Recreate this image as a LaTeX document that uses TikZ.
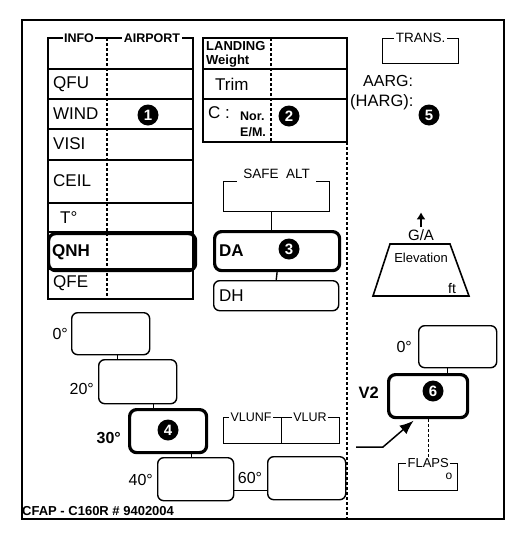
\documentclass[tikz,border=0pt]{standalone}
\usepackage{fontspec}
\setmainfont{Liberation Sans}
\usetikzlibrary{arrows.meta}

\tikzset{
  lbl/.style={anchor=west, inner sep=0pt, font=\fontsize{17}{19}\selectfont},
  bfl/.style={lbl, font=\fontsize{17}{19}\selectfont\bfseries},
  hdr/.style={fill=white, inner sep=1.5pt, font=\fontsize{12.5}{14}\selectfont\bfseries},
  captxt/.style={fill=white, inner sep=1.5pt, font=\fontsize{13}{15}\selectfont},
  tabline/.style={line width=1.4pt},
  divider/.style={line width=1.2pt, dash pattern=on 3pt off 2pt},
  bracket/.style={draw, tabline, anchor=north west, inner sep=0pt},
  thinbox/.style={draw, line width=1.4pt, rounded corners=6pt, anchor=north west, inner sep=0pt,
    minimum width=78pt, minimum height=42pt},
  thickbox/.style={thinbox, line width=3.2pt, rounded corners=7pt},
  num/.style={circle, fill=black, text=white, inner sep=0pt, minimum size=21pt,
    font=\fontsize{15}{15}\selectfont\bfseries}
}

\begin{document}
\begin{tikzpicture}[>=Latex,x=1pt,y=-1pt]
  \useasboundingbox (0,0) rectangle (525,544);

  % Outer frame and column divider
  \draw[line width=1.8pt] (22,20) rectangle (504,519);
  \draw[divider] (347,142) -- (347,519);

  % INFO / AIRPORT table
  \draw[tabline] (48,38) -- (193,38) -- (193,299) -- (48,299) -- cycle;
  \foreach \y in {69,99,129,160,203,232,269}
    \draw[tabline] (48,\y) -- (193,\y);
  \draw[divider] (107,38) -- (107,299);
  \node[hdr] at (79,38) {INFO};
  \node[hdr] at (152,38) {AIRPORT};
  \node[thickbox, minimum width=147pt, minimum height=37pt] (qnh) at (47,232) {};
  \node[lbl] (qfu) at (53,84) {QFU};
  \node[lbl] (wind) at (53,114) {WIND};
  \node[lbl] (visi) at (53,144) {VISI};
  \node[lbl] (ceil) at (53,181) {CEIL};
  \node[lbl] (temp) at (60,218) {T°};
  \node[bfl] (qnhlbl) at ([xshift=5pt]qnh.west) {QNH};
  \node[lbl] (qfe) at (53,283) {QFE};
  \node[num] (n1) at (148,115) {1};

  % Landing weight table
  \draw[tabline] (203,38) rectangle (347,142);
  \draw[tabline] (203,69) -- (347,69);
  \draw[tabline] (203,99) -- (347,99);
  \draw[divider] (271,38) -- (271,142);
  \node[lbl, font=\fontsize{13}{14}\selectfont\bfseries] (landing) at (206,46) {LANDING};
  \node[lbl, font=\fontsize{13}{14}\selectfont\bfseries] (weight) at (206,61) {Weight};
  \node[lbl] (trim) at (215,84) {Trim};
  \node[lbl] (conf) at (208,113) {C :};
  \node[lbl, font=\fontsize{12.5}{14}\selectfont\bfseries] (nor) at (240,116) {Nor.};
  \node[lbl, font=\fontsize{12.5}{14}\selectfont\bfseries] (em) at (240,132) {E/M.};
  \node[num] (n2) at (289,116) {2};

  % Safe altitude, DA and DH
  \node[bracket, minimum width=106pt, minimum height=30pt] (safe) at (223,181) {};
  \node[captxt, font=\fontsize{13.5}{15}\selectfont, anchor=base, inner xsep=6pt, inner ysep=4.5pt] at ([yshift=3pt]safe.north) {SAFE\ \ ALT};
  \node[thickbox, minimum width=125pt, minimum height=39pt] (da) at (213,230) {};
  \node[thinbox, minimum width=125pt, minimum height=30pt] (dh) at (213,280) {};
  \draw[tabline] ([xshift=-5pt]safe.south) -- ([xshift=-5pt]safe.south |- da.north);
  \draw[tabline] (da.south) -- (dh.north);
  \node[bfl] (dalbl) at ([xshift=6pt]da.west) {DA};
  \node[num] (n3) at (289,249) {3};
  \node[lbl] (dhlbl) at ([xshift=6pt]dh.west) {DH};

  % Transition level
  \node[bracket, minimum width=76pt, minimum height=25pt] (trans) at (382,38) {};
  \node[captxt, font=\fontsize{13.5}{15}\selectfont] at (trans.north) {TRANS.};
  \node[lbl, font=\fontsize{16}{18}\selectfont] (aarg) at (363,81) {AARG:};
  \node[lbl, font=\fontsize{16.5}{18}\selectfont] (harg) at (350,102) {(HARG):};
  \node[num] (n5) at (429,115) {5};

  % Go-around elevation
  \draw[line width=1.6pt] (390,244) -- (450,244) -- (469,296) -- (373,296) -- cycle;
  \node[inner sep=0pt, font=\fontsize{15}{17}\selectfont] (ga) at (421,235) {G/A};
  \draw[->, line width=2.2pt, >={Latex[length=7pt,width=9pt]}] ([yshift=2pt]ga.north) -- ++(0,-15);
  \node[inner sep=0pt, font=\fontsize{13}{15}\selectfont] (elev) at (421,258) {Elevation};
  \node[inner sep=0pt, font=\fontsize{14}{16}\selectfont] (ft) at (452,288) {ft};

  % Flap speeds
  \node[thinbox, minimum width=78pt, minimum height=42pt] (b0) at (71,312) {};
  \node[thinbox, minimum width=78pt, minimum height=44pt] (b20) at (98,359) {};
  \node[thickbox, minimum width=77pt, minimum height=43pt] (b30) at (128,408) {};
  \node[thinbox, minimum width=76pt, minimum height=43pt] (b40) at (157,457) {};
  \node[thinbox, minimum width=78pt, minimum height=43pt] (b60) at (267,456) {};
  \draw[tabline] ([xshift=7pt]b0.south) -- ([xshift=7pt]b0.south |- b20.north);
  \draw[tabline] ([xshift=16pt]b20.south) -- ([xshift=16pt]b20.south |- b30.north);
  \draw[tabline] ([xshift=23.5pt]b30.south) -- ([xshift=23.5pt]b30.south |- b40.north);
  \draw[tabline] ([yshift=-11.5pt]b40.east) -- ([yshift=-11.5pt]b40.east -| b60.west);
  \node[lbl, anchor=east, font=\fontsize{16}{18}\selectfont] at ([xshift=-3pt]b0.west) {0°};
  \node[lbl, anchor=east, font=\fontsize{16}{18}\selectfont] at ([xshift=-4pt,yshift=-7pt]b20.west) {20°};
  \node[lbl, anchor=east, font=\fontsize{16}{18}\selectfont\bfseries] at ([xshift=-7pt,yshift=-7pt]b30.west) {30°};
  \node[num] (n4) at (168,430) {4};
  \node[lbl, anchor=east, font=\fontsize{16}{18}\selectfont] at ([xshift=-4pt,yshift=-1pt]b40.west) {40°};
  \node[inner sep=0pt, font=\fontsize{16}{18}\selectfont] at (250,478) {60°};

  % VLU brackets
  \node[bracket, minimum width=116pt, minimum height=26pt] (vlu) at (223,417) {};
  \draw[tabline] (vlu.north) -- (vlu.south);
  \node[captxt, font=\fontsize{12.5}{14}\selectfont] at (251,417) {VLUNF};
  \node[captxt, font=\fontsize{12.5}{14}\selectfont] at (310,417) {VLUR};

  % Take-off speeds
  \node[thinbox, minimum width=78pt, minimum height=42pt] (r0) at (418,325) {};
  \node[thickbox, minimum width=79pt, minimum height=43pt] (v2) at (387,373) {};
  \node[bracket, minimum width=59pt, minimum height=27pt] (flaps) at (398,463) {};
  \draw[tabline] ([xshift=-10pt]r0.south) -- ([xshift=-10pt]r0.south |- v2.north);
  \draw[divider] (v2.south) -- (v2.south |- flaps.north);
  \node[lbl, anchor=east, font=\fontsize{16}{18}\selectfont] at ([xshift=-6pt]r0.west) {0°};
  \node[lbl, anchor=east, font=\fontsize{16.5}{18}\selectfont\bfseries] at ([xshift=-8pt,yshift=3pt]v2.west) {V2};
  \node[num] (n6) at (433,391) {6};
  \node[captxt] at (flaps.north) {FLAPS};
  \node[inner sep=0pt, font=\fontsize{12}{14}\selectfont] at (449,476) {o};
  \coordinate (arr) at (356,447);
  \draw[->, line width=1.5pt, >={Latex[length=14pt,width=11pt]}] (arr) -- ++(27,0) -- ([xshift=-14.5pt,yshift=-1.5pt]v2.south);

  % Reference
  \node[lbl, font=\fontsize{13}{15}\selectfont\bfseries] (ref) at (22,511) {CFAP - C160R \# 9402004};
\end{tikzpicture}
\end{document}
